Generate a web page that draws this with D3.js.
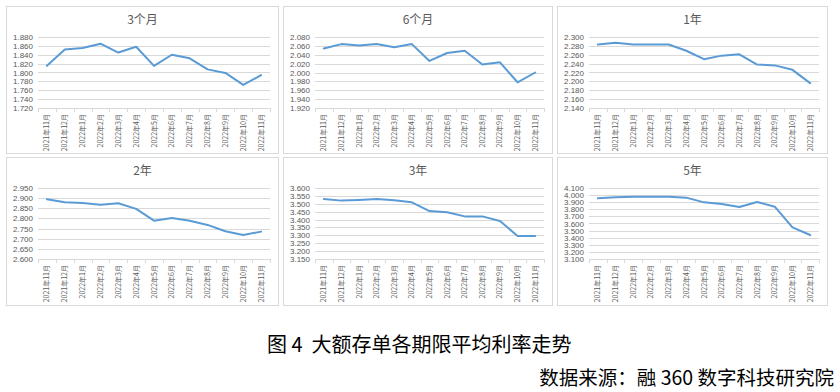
<!DOCTYPE html>
<html>
<head>
<meta charset="utf-8">
<script src="https://cdn.jsdelivr.net/npm/d3@7"></script>
<style>
  body { margin: 0; background: #fff; }
  svg { display: block; }
</style>
</head>
<body>
<svg id="chart" width="840" height="392"></svg>
<script>
// months on the x axis
const months = ["2021年11月", "2021年12月", "2022年1月", "2022年2月", "2022年3月", "2022年4月",
  "2022年5月", "2022年6月", "2022年7月", "2022年8月", "2022年9月", "2022年10月", "2022年11月"]

// average rate per term (%)
const rate3m = [1.815, 1.852, 1.855, 1.865, 1.845, 1.858, 1.815, 1.840, 1.832, 1.807, 1.799, 1.772, 1.794]
const rate6m = [2.054, 2.064, 2.061, 2.064, 2.057, 2.064, 2.026, 2.044, 2.049, 2.018, 2.023, 1.978, 2.000]
const rate1y = [2.283, 2.287, 2.283, 2.283, 2.283, 2.269, 2.250, 2.258, 2.261, 2.238, 2.236, 2.226, 2.196]
const rate2y = [2.894, 2.880, 2.876, 2.868, 2.875, 2.847, 2.789, 2.802, 2.789, 2.768, 2.737, 2.718, 2.735]
const rate3y = [3.530, 3.520, 3.524, 3.530, 3.522, 3.509, 3.454, 3.446, 3.420, 3.420, 3.391, 3.296, 3.296]
const rate5y = [3.954, 3.969, 3.978, 3.978, 3.978, 3.964, 3.898, 3.875, 3.832, 3.903, 3.837, 3.546, 3.438]

// panel titles and y axis ranges [min, max, step]
const titles = ["3个月", "6个月", "1年", "2年", "3年", "5年"]
const yRanges = [[1.72, 1.88, 0.02], [1.92, 2.08, 0.02], [2.14, 2.30, 0.02],
  [2.60, 2.95, 0.05], [3.15, 3.60, 0.05], [3.10, 4.10, 0.1]]

const caption = "图 4  大额存单各期限平均利率走势"
const source = "数据来源：融 360 数字科技研究院"

const series = [rate3m, rate6m, rate1y, rate2y, rate3y, rate5y]

const panelX = [6, 283, 557]
const panelW = [273, 270, 271]
const panelY = [6, 157]
const panelH = [148, 149]

const lineColour = "#5B9BD5"
const textColour = "#595959"
const gridColour = "#D9D9D9"

const svg = d3.select("#chart")

series.forEach((values, i) => {
  let col = i % 3, row = Math.floor(i / 3)
  let x0 = panelX[col], y0 = panelY[row], w = panelW[col], h = panelH[row]
  let [lo, hi, step] = yRanges[i]

  let g = svg.append("g").attr("transform", `translate(${x0},${y0})`)

  g.append("rect")
    .attr("x", 0.5).attr("y", 0.5)
    .attr("width", w - 1).attr("height", h - 1)
    .attr("fill", "#fff")
    .attr("stroke", gridColour)

  g.append("text")
    .attr("x", w / 2).attr("y", 18)
    .attr("text-anchor", "middle")
    .attr("font-family", "'Noto Sans CJK SC', sans-serif")
    .attr("font-size", 12)
    .attr("fill", textColour)
    .text(titles[i])

  let left = 32, right = w - 9, top = 31, bottom = 102

  let x = d3.scaleBand().domain(months).range([left, right])
  let y = d3.scaleLinear().domain([lo, hi]).range([bottom, top])

  let ticks = d3.range(0, Math.round((hi - lo) / step) + 1).map(k => lo + k * step)

  // gridlines
  g.append("g")
    .selectAll("line")
    .data(ticks)
    .enter().append("line")
    .attr("x1", left).attr("x2", right)
    .attr("y1", d => Math.round(y(d)) + 0.5)
    .attr("y2", d => Math.round(y(d)) + 0.5)
    .attr("stroke", gridColour)

  // y labels
  g.append("g")
    .selectAll("text")
    .data(ticks)
    .enter().append("text")
    .attr("x", left - 5)
    .attr("y", d => y(d) + 3)
    .attr("text-anchor", "end")
    .attr("font-family", "'Liberation Sans', Arial, sans-serif")
    .attr("font-size", 8)
    .attr("fill", textColour)
    .text(d => d3.format(".3f")(d))

  // x tick marks at category edges
  let edges = months.map(m => x(m)).concat([right])
  g.append("g")
    .selectAll("line")
    .data(edges)
    .enter().append("line")
    .attr("x1", d => Math.round(d) + 0.5).attr("x2", d => Math.round(d) + 0.5)
    .attr("y1", Math.round(bottom)).attr("y2", Math.round(bottom) + 4)
    .attr("stroke", gridColour)

  // x labels, rotated
  g.append("g")
    .selectAll("text")
    .data(months)
    .enter().append("text")
    .attr("transform", d => `translate(${x(d) + x.bandwidth() / 2 + 2.5},${bottom + 6}) rotate(-90)`)
    .attr("text-anchor", "end")
    .attr("font-family", "'Noto Sans CJK SC', sans-serif")
    .attr("font-size", 7)
    .attr("fill", textColour)
    .text(d => d)

  let line = d3.line()
    .x((d, k) => x(months[k]) + x.bandwidth() / 2)
    .y(d => y(d))

  g.append("path")
    .datum(values)
    .attr("d", line)
    .attr("fill", "none")
    .attr("stroke", lineColour)
    .attr("stroke-width", 2)
    .attr("stroke-linejoin", "round")
    .attr("stroke-linecap", "round")
})

svg.append("text")
  .attr("x", 267).attr("y", 352)
  .attr("font-family", "'Noto Sans CJK SC', sans-serif")
  .attr("font-size", 20)
  .attr("fill", "#000")
  .attr("xml:space", "preserve")
  .text(caption)

svg.append("text")
  .attr("x", 834).attr("y", 385)
  .attr("text-anchor", "end")
  .attr("font-family", "'Noto Sans CJK SC', sans-serif")
  .attr("font-size", 19.5)
  .attr("fill", "#000")
  .text(source)
</script>
</body>
</html>
